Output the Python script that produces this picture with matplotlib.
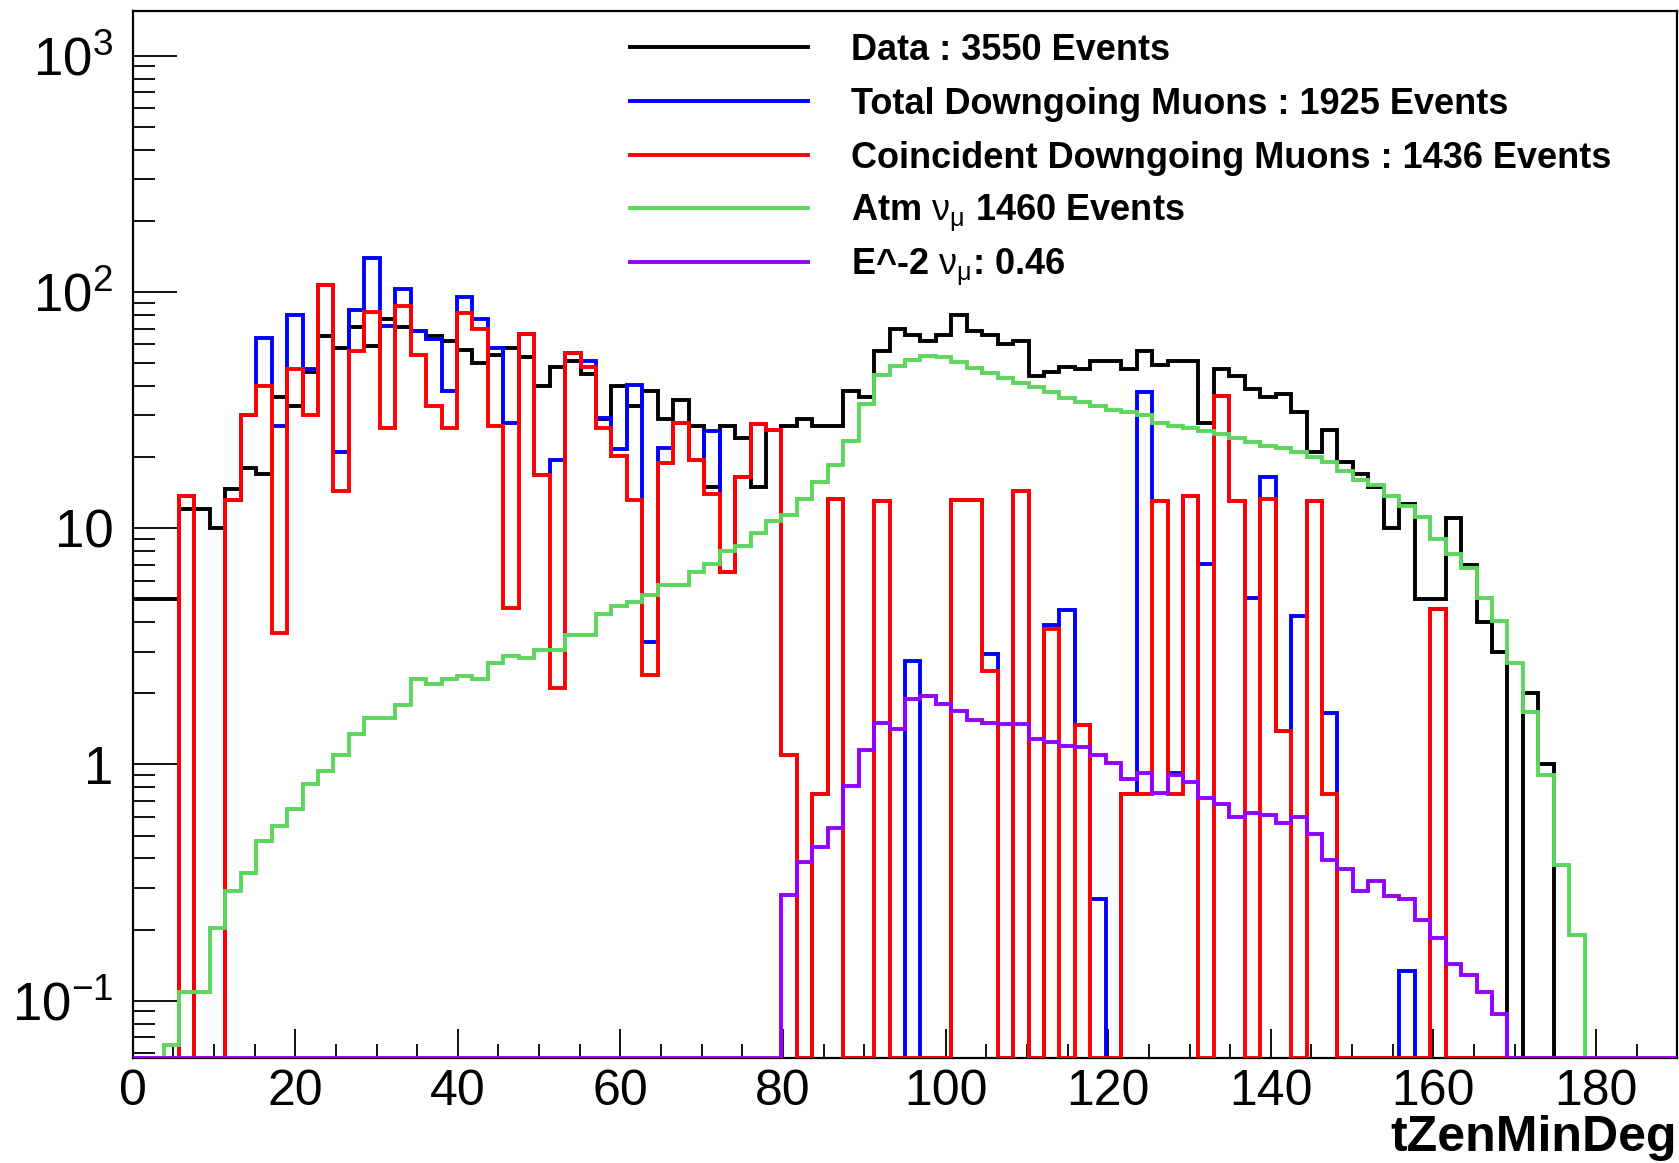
import matplotlib.pyplot as plt
import numpy as np
from matplotlib.lines import Line2D
from matplotlib.ticker import FixedLocator, MultipleLocator, LogLocator, NullFormatter

plt.rcParams['font.family'] = ['Liberation Sans', 'DejaVu Sans']
plt.rcParams['mathtext.fontset'] = 'custom'
plt.rcParams['mathtext.rm'] = 'Liberation Sans'
plt.rcParams['mathtext.it'] = 'Liberation Sans:italic'
plt.rcParams['mathtext.bf'] = 'Liberation Sans:bold'

# tZenMinDeg: 100 bins, 0 - 190 deg
edges = np.linspace(0, 190, 101)

data = [5, 5, 5, 12, 12, 10, 14.7, 18, 17, 36,
        33, 46, 65, 58, 71, 59, 77, 71, 68, 65,
        62, 57, 50, 54, 58, 53, 40, 48, 51, 45,
        29, 40, 33, 38, 29, 35, 27, 15, 27, 24,
        15, 26, 27, 29, 27, 27, 38, 36, 56, 70,
        66, 62, 66, 80, 68, 66, 60, 62, 44, 46,
        48, 47, 51, 51, 47, 56, 49, 51, 51, 28,
        47, 44, 39, 36, 37, 31, 21, 26, 19, 17,
        15, 10, 12.7, 5, 5, 11, 7, 4, 3, 0,
        2, 1, 0, 0, 0, 0, 0, 0, 0, 0]

total_mu = [0, 0, 0, 13.7, 0, 0, 13.1, 30, 64, 27,
            80, 47, 107, 21, 84, 139, 72, 103, 68, 63,
            38, 95, 77, 58, 28, 66.5, 16.8, 19.5, 55, 51,
            29.4, 21.7, 40.4, 3.3, 21.9, 27.9, 19.4, 25.9, 6.5, 16.4,
            27.7, 26, 1.1, 0, 0.75, 13.3, 0, 0, 13, 0,
            2.75, 0, 0, 13.1, 13.1, 2.93, 0, 14.4, 0, 3.9,
            4.5, 1.47, 0.27, 0, 0.75, 37.6, 13, 0.92, 13.7, 7.05,
            36.4, 13, 5.06, 16.4, 1.38, 4.24, 13, 1.65, 0, 0,
            0, 0, 0.133, 0, 4.57, 0, 0, 0, 0, 0,
            0, 0, 0, 0, 0, 0, 0, 0, 0, 0]

coinc_mu = [0, 0, 0, 13.7, 0, 0, 13.1, 30, 40, 3.6,
            47, 30, 107, 14.4, 56, 82, 26.5, 87, 54, 33,
            26.5, 81.5, 70, 27, 4.6, 66.5, 16.8, 2.1, 55, 48,
            26.5, 20.3, 13.1, 2.4, 18.8, 27.9, 19.4, 14, 6.5, 16.4,
            27.7, 26, 1.1, 0, 0.75, 13.3, 0, 0, 13, 0,
            0, 0, 0, 13.1, 13.1, 2.48, 0, 14.4, 0, 3.73,
            0, 1.47, 0, 0, 0.75, 0.75, 13, 0.75, 13.7, 0,
            36.4, 13, 0, 13.3, 1.38, 0, 13, 0.75, 0, 0,
            0, 0, 0, 0, 4.57, 0, 0, 0, 0, 0,
            0, 0, 0, 0, 0, 0, 0, 0, 0, 0]

atm_numu = [0, 0, 0.065, 0.109, 0.109, 0.204, 0.291, 0.348, 0.472, 0.551,
            0.649, 0.829, 0.94, 1.1, 1.34, 1.57, 1.57, 1.78, 2.3, 2.2,
            2.3, 2.36, 2.3, 2.68, 2.89, 2.83, 3.04, 3.04, 3.54, 3.54,
            4.34, 4.69, 4.88, 5.19, 5.75, 5.75, 6.53, 7.05, 8.0, 8.43,
            9.57, 10.7, 11.4, 13.3, 15.7, 18.6, 23.4, 33.4, 44.3, 48.5,
            51.5, 53.4, 52.8, 50.7, 47.7, 45.4, 43.2, 41, 39.5, 37.6,
            35.7, 34.3, 32.9, 31.7, 30.9, 30.2, 28, 27.2, 26.5, 25.9,
            25, 24.1, 23.1, 22.3, 21.9, 21.1, 20, 19.1, 17.5, 16,
            15.3, 13.7, 12.4, 11.2, 9.0, 7.8, 6.8, 5.06, 4.06, 2.68,
            1.67, 0.9, 0.376, 0.189, 0, 0, 0, 0, 0, 0]

e2_numu = [0] * 42 + [
    0.279, 0.386, 0.449, 0.537, 0.807, 1.15, 1.5, 1.41,
    1.89, 1.95, 1.8, 1.69, 1.54, 1.5, 1.49, 1.48, 1.28, 1.25,
    1.2, 1.18, 1.1, 1.01, 0.87, 0.92, 0.755, 0.9, 0.84, 0.72,
    0.68, 0.6, 0.625, 0.61, 0.565, 0.6, 0.51, 0.395, 0.362, 0.291,
    0.322, 0.277, 0.27, 0.22, 0.184, 0.143, 0.129, 0.109, 0.088, 0,
    0, 0, 0, 0, 0, 0, 0, 0, 0, 0]

labels = ['Data : 3550 Events',
          'Total Downgoing Muons : 1925 Events',
          'Coincident Downgoing Muons : 1436 Events',
          r'Atm $\mathrm{\nu}_{\mathrm{\mu}}$ 1460 Events',
          r'E^-2 $\mathrm{\nu}_{\mathrm{\mu}}$: 0.46']
colors = ['#000000', '#0000ff', '#ff0000', '#5cd65c', '#9400ff']

ymin, ymax = 0.0572, 1545

fig = plt.figure(figsize=(16.79, 11.63), dpi=100)
ax = fig.add_axes([0.079, 0.0903, 0.920, 0.9002])

lw = 2.8
series = [data, total_mu, coinc_mu, atm_numu, e2_numu]
for i, (vals, c) in enumerate(zip(series, colors)):
    v = np.asarray(vals, dtype=float)
    v = np.where(v > 0, v, ymin)  # empty bins sit on the frame like ROOT
    ax.stairs(v, edges, baseline=None, color=c, lw=lw, zorder=2 + i)

ax.set_yscale('log')
ax.set_xlim(0, 190)
ax.set_ylim(ymin, ymax)

ax.yaxis.set_major_locator(FixedLocator([0.1, 1, 10, 100, 1000]))
ax.set_yticklabels([r'$10^{-1}$', '1', '10', r'$10^{2}$', r'$10^{3}$'])
ax.yaxis.set_minor_locator(LogLocator(base=10, subs=np.arange(2, 10)))
ax.yaxis.set_minor_formatter(NullFormatter())
ax.xaxis.set_major_locator(MultipleLocator(20))
ax.xaxis.set_minor_locator(MultipleLocator(5))

ax.tick_params(which='both', direction='in', top=False, right=False, width=1.3)
ax.tick_params(axis='y', which='major', length=32, pad=14, labelsize=38)
ax.tick_params(axis='y', which='minor', length=16)
ax.tick_params(axis='x', which='major', length=21, pad=8, labelsize=36)
ax.tick_params(axis='x', which='minor', length=10)
for sp in ax.spines.values():
    sp.set_linewidth(1.6)

ax.set_xlabel('tZenMinDeg', loc='right', fontsize=36, fontweight='bold',
              labelpad=0)

# legend, ROOT TLegend style (no frame)
row_y = 1 - (47.1 + 53.8 * np.arange(len(labels))) / 1163
for y, lab, c in zip(row_y, labels, colors):
    fig.add_artist(Line2D([0.375, 0.4815], [y, y], color=c, lw=lw,
                          transform=fig.transFigure))
    fig.text(0.507, y - 12.9 / 1163, lab, fontsize=26, fontweight='bold',
             va='baseline', ha='left')

plt.savefig('out.png', dpi=100)
